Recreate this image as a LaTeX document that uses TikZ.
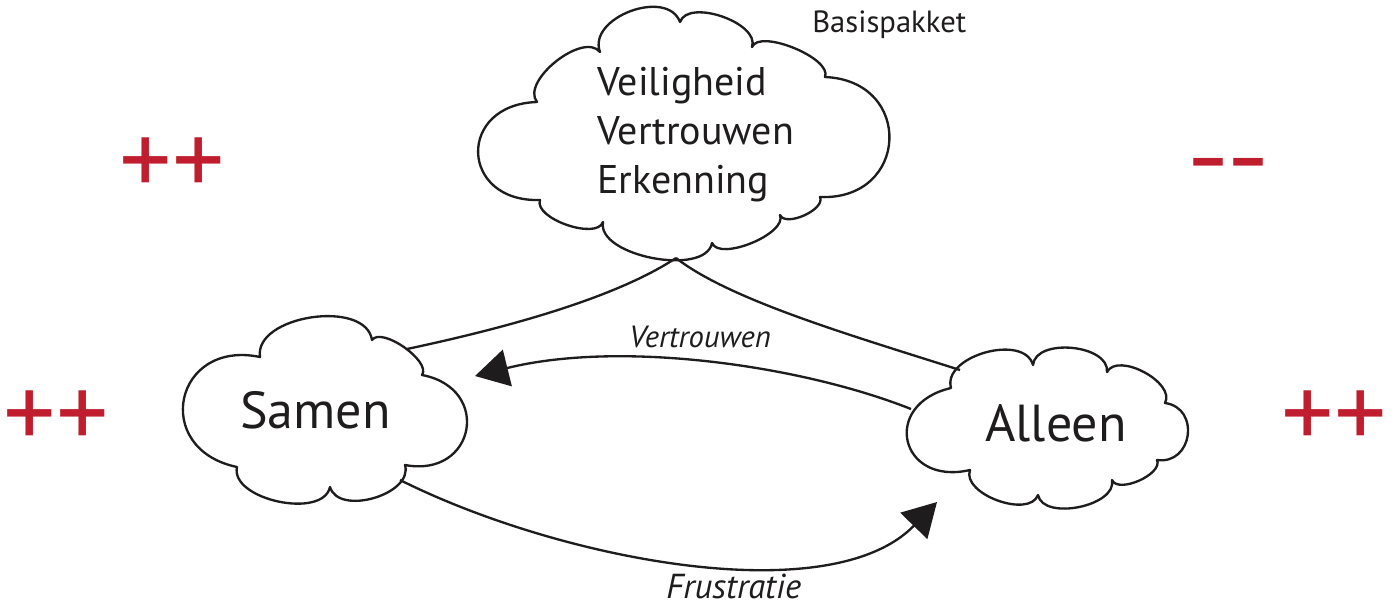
\documentclass[tikz,border=0pt]{standalone}
\usepackage{fontspec}
\setmainfont{PT Sans}
\usetikzlibrary{arrows.meta}
\definecolor{mred}{RGB}{192,30,46}
\definecolor{ink}{RGB}{30,28,28}
\begin{document}
\begin{tikzpicture}[x=0.75pt,y=-0.75pt,
  cl/.style={draw=ink,line width=1.75pt,fill=white,line join=round},
  puff/.style={bend left=90,looseness=#1},
  conn/.style={draw=ink,line width=1.75pt},
  arr/.style={conn,-{Triangle[length=25pt,width=28pt]}},
  big/.style={text=ink,inner sep=0pt,anchor=base west,font=\fontsize{30}{36}\selectfont},
  huge/.style={text=ink,inner sep=0pt,anchor=base west,font=\fontsize{39}{46}\selectfont},
  lbl/.style={text=ink,inner sep=0pt,anchor=base west,font=\itshape\fontsize{23}{27}\selectfont},
  plus/.style={text=mred,inner sep=0pt,anchor=base,font=\fontsize{78}{78}\selectfont},
  minus/.style={text=mred,inner sep=0pt,anchor=base,font=\bfseries\fontsize{50}{50}\selectfont}]
\useasboundingbox (0,0) rectangle (1399,607);

% clouds
\draw[cl] (600,52) to[puff=1.1] (680,22) to[puff=0.85] (752,47) to[puff=0.65] (825,77)
  to[puff=1.9] (820,197) to[puff=0.8] (780,215) to[puff=0.7] (712,243)
  to[puff=0.8] (603,222) to[puff=0.75] (540,200) to[puff=2.1] (537,102)
  to[puff=0.85] (600,52) -- cycle;
\draw[cl] (260,357) to[puff=0.95] (372,340) to[puff=0.7] (422,375) to[puff=2.0] (405,465)
  to[puff=1.0] (330,487) to[puff=0.9] (237,467) to[puff=2.0] (260,357) -- cycle;
\draw[cl] (951,388) to[puff=1.0] (1033,365) to[puff=0.95] (1107,372) to[puff=0.9] (1165,403)
  to[puff=1.6] (1157,460) to[puff=0.8] (1112,480) to[puff=0.9] (1038,495)
  to[puff=0.9] (970,470) to[puff=2.2] (951,388) -- cycle;

% texts
\node[big] (v1) at (597,95) {Veiligheid};
\node[big] (v2) at (597,144) {Vertrouwen};
\node[big] (v3) at (597,193) {Erkenning};
\node[text=ink,inner sep=0pt,anchor=base west,font=\fontsize{23}{28}\selectfont] (basis) at (812,32.7) {Basispakket};
\node[huge] (samen) at (240,428.7) {Samen};
\node[huge] (alleen) at (985,441.7) {Alleen};
\node[lbl] (lv) at (629,347) {Vertrouwen};
\node[lbl,font=\itshape\fontsize{26}{30}\selectfont] (lf) at (666,598) {Frustratie};

\node[plus] (p1) at (172.5,195.7) {++};
\node[plus] (p2) at (56.5,448.7) {++};
\node[plus] (p3) at (1334.5,448.7) {++};
\node[minus] (m1) at (1228.5,181) {\textendash\textendash};

% connection points
\coordinate (tb) at (676,258);
\coordinate (sa) at (407,349);
\coordinate (al) at (960,370);
\coordinate (av) at (911,409);
\coordinate (sv) at (475,376);
\coordinate (sf) at (400,480);
\coordinate (af) at (937,502);

\draw[conn] (tb) .. controls (620,295) and (520,325) .. (sa);
\draw[conn] (tb) .. controls (730,300) and (850,335) .. (al);
\draw[arr] (av) .. controls (800,365) and (620,340) .. (sv);
\draw[arr] (sf) .. controls (560,560) and (830,612) .. (af);
\end{tikzpicture}
\end{document}
